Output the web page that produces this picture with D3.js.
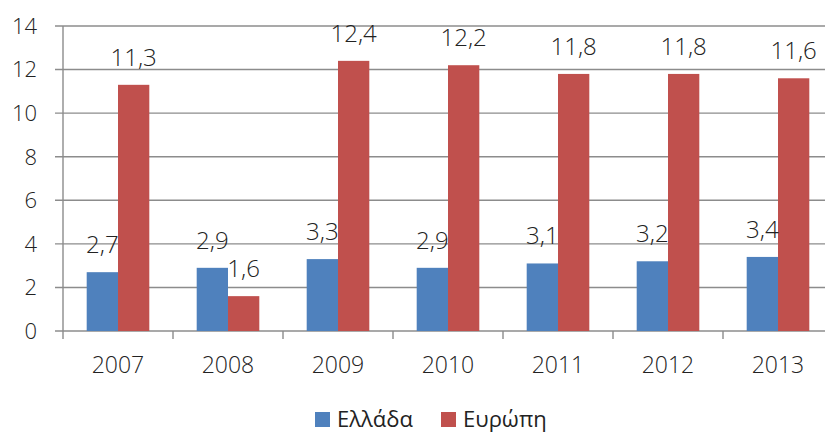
<!DOCTYPE html>
<html>
<head>
<meta charset="utf-8">
<script src="https://cdn.jsdelivr.net/npm/d3@7"></script>
<style>
  html, body { margin: 0; padding: 0; background: #fff; }
  svg { display: block; font-family: "Open Sans", sans-serif; font-weight: 300; }
</style>
</head>
<body>
<svg id="chart" width="825" height="432"></svg>
<script>
const years = ["2007", "2008", "2009", "2010", "2011", "2012", "2013"];
const seriesNames = ["Ελλάδα", "Ευρώπη"];
const greece = [2.7, 2.9, 3.3, 2.9, 3.1, 3.2, 3.4];
const europe = [11.3, 1.6, 12.4, 12.2, 11.8, 11.8, 11.6];
const yTicks = [0, 2, 4, 6, 8, 10, 12, 14];
const colors = ["#4F81BD", "#C0504D"];

const svg = d3.select("#chart");
const plotLeft = 63, plotTop = 26, plotBottom = 331;
const band = 110;

const x0 = d3.scaleBand()
    .domain(years)
    .range([plotLeft, plotLeft + band * years.length])
    .padding(0);

const x1 = d3.scaleBand()
    .domain(seriesNames)
    .range([0, x0.bandwidth()])
    .paddingInner(0)
    .paddingOuter(0.757);

const y = d3.scaleLinear().domain([0, 14]).range([plotBottom, plotTop]);

const fmt = v => String(v).replace(".", ",");

// gridlines
svg.append("g")
    .selectAll("line")
    .data(yTicks)
    .enter()
    .append("line")
    .attr("x1", plotLeft - 8)
    .attr("x2", 825)
    .attr("y1", d => y(d))
    .attr("y2", d => y(d))
    .attr("stroke", "#8c8c8c")
    .attr("stroke-width", 1.4);

// y labels
svg.append("g")
    .selectAll("text")
    .data(yTicks)
    .enter()
    .append("text")
    .attr("x", 37)
    .attr("y", d => y(d))
    .attr("dy", "0.36em")
    .attr("text-anchor", "end")
    .attr("font-size", 22)
    .attr("fill", "#222")
    .text(d => d);

// bars
const rows = years.map((yr, i) => ({ year: yr, values: [greece[i], europe[i]] }));

const groups = svg.append("g")
    .selectAll("g")
    .data(rows)
    .enter()
    .append("g")
    .attr("transform", d => `translate(${x0(d.year)},0)`);

groups.selectAll("rect")
    .data(d => d.values.map((v, k) => ({ name: seriesNames[k], value: v, k })))
    .enter()
    .append("rect")
    .attr("x", d => x1(d.name))
    .attr("width", x1.bandwidth())
    .attr("y", d => y(d.value))
    .attr("height", d => y(0) - y(d.value))
    .attr("fill", d => colors[d.k]);

groups.selectAll("text")
    .data(d => d.values.map((v, k) => ({ name: seriesNames[k], value: v })))
    .enter()
    .append("text")
    .attr("x", d => x1(d.name) + x1.bandwidth() / 2)
    .attr("y", d => y(d.value) - 19)
    .attr("text-anchor", "middle")
    .attr("font-size", 24)
    .attr("fill", "#222")
    .text(d => fmt(d.value));

// axes lines
svg.append("line")
    .attr("x1", plotLeft).attr("x2", plotLeft)
    .attr("y1", plotTop).attr("y2", plotBottom + 8)
    .attr("stroke", "#8c8c8c").attr("stroke-width", 1.4);

svg.append("g")
    .selectAll("line")
    .data(years.slice(1))
    .enter()
    .append("line")
    .attr("x1", d => x0(d)).attr("x2", d => x0(d))
    .attr("y1", plotBottom).attr("y2", plotBottom + 8)
    .attr("stroke", "#8c8c8c").attr("stroke-width", 1.4);

// x labels
svg.append("g")
    .selectAll("text")
    .data(years)
    .enter()
    .append("text")
    .attr("x", d => x0(d) + x0.bandwidth() / 2)
    .attr("y", 373)
    .attr("text-anchor", "middle")
    .attr("font-size", 23)
    .attr("fill", "#222")
    .text(d => d);

// legend
const legendX = [315, 441];
const legend = svg.append("g")
    .selectAll("g")
    .data(seriesNames)
    .enter()
    .append("g")
    .attr("transform", (d, i) => `translate(${legendX[i]},412)`);

legend.append("rect")
    .attr("width", 15).attr("height", 15)
    .attr("fill", (d, i) => colors[i]);

legend.append("text")
    .attr("x", 22)
    .attr("y", 15)
    .attr("font-size", 22)
    .attr("font-weight", 400)
    .attr("fill", "#222")
    .text(d => d);
</script>
</body>
</html>
